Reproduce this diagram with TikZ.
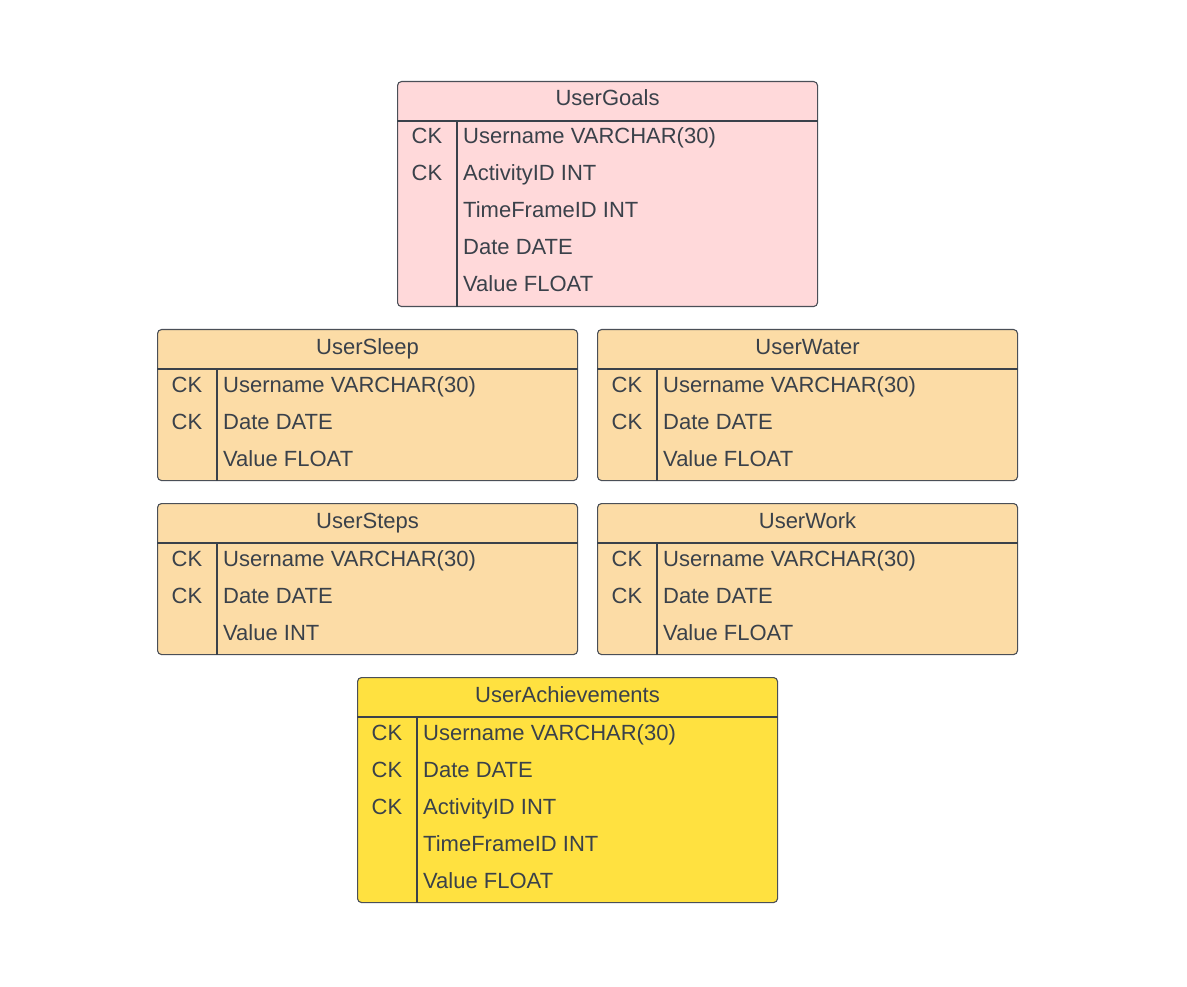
\documentclass[tikz,border=0pt]{standalone}
\usepackage{fontspec}
\setmainfont{Liberation Sans}
\usetikzlibrary{calc}
\definecolor{ink}{HTML}{3A414A}
\definecolor{edge}{HTML}{4A4F57}
\definecolor{goalfill}{HTML}{FFD9DA}
\definecolor{dailyfill}{HTML}{FCDCA6}
\definecolor{achfill}{HTML}{FFE140}
\tikzset{
  tablebox/.style={draw=edge, line width=1.1pt, rounded corners=4pt, minimum width=420pt, inner sep=0pt},
  rule/.style={draw=ink, line width=1.1pt},
  titletext/.style={text=ink, font=\fontsize{22pt}{26pt}\selectfont, inner sep=0pt},
  keytext/.style={text=ink, font=\fontsize{22pt}{26pt}\selectfont, inner sep=0pt},
  fieldtext/.style={text=ink, font=\fontsize{22pt}{26pt}\selectfont, inner sep=0pt},
}
% #1 name, #2 left, #3 top, #4 number of rows, #5 fill, #6 title, #7 key/field list
\newcommand{\erdtable}[7]{%
  \pgfmathsetmacro\tblh{40+37*#4}
  \node[tablebox, fill=#5, minimum height=\tblh pt, anchor=north west] (#1) at (#2,#3) {};
  \node[titletext, anchor=base] (#1-title) at ($(#1.north)+(0,25)$) {#6};
  \draw[rule] ($(#1.north west)+(0,40)$) -- ($(#1.north east)+(0,40)$);
  \draw[rule] ($(#1.north west)+(60,40)$) -- ($(#1.south west)+(60,0)$);
  \foreach \k/\f [count=\i from 0] in {#7} {
    \node[keytext, anchor=base] (#1-k\i) at ($(#1.north west)+(30,63+37*\i)$) {\k};
    \node[fieldtext, anchor=base west] (#1-f\i) at ($(#1.north west)+(66,63+37*\i)$) {\f};
  }
}
\begin{document}
\begin{tikzpicture}[x=1pt, y=-1pt]
\useasboundingbox (0,0) rectangle (1187,987);
\fill[white] (0,0) rectangle (1187,987);
\erdtable{goals}{397}{81}{5}{goalfill}{UserGoals}%
  {CK/Username VARCHAR(30), CK/ActivityID INT, /TimeFrameID INT, /Date DATE, /Value FLOAT}
\erdtable{sleep}{157}{329}{3}{dailyfill}{UserSleep}%
  {CK/Username VARCHAR(30), CK/Date DATE, /Value FLOAT}
\erdtable{water}{597}{329}{3}{dailyfill}{UserWater}%
  {CK/Username VARCHAR(30), CK/Date DATE, /Value FLOAT}
\erdtable{steps}{157}{503}{3}{dailyfill}{UserSteps}%
  {CK/Username VARCHAR(30), CK/Date DATE, /Value INT}
\erdtable{work}{597}{503}{3}{dailyfill}{UserWork}%
  {CK/Username VARCHAR(30), CK/Date DATE, /Value FLOAT}
\erdtable{ach}{357}{677}{5}{achfill}{UserAchievements}%
  {CK/Username VARCHAR(30), CK/Date DATE, CK/ActivityID INT, /TimeFrameID INT, /Value FLOAT}
\end{tikzpicture}
\end{document}
